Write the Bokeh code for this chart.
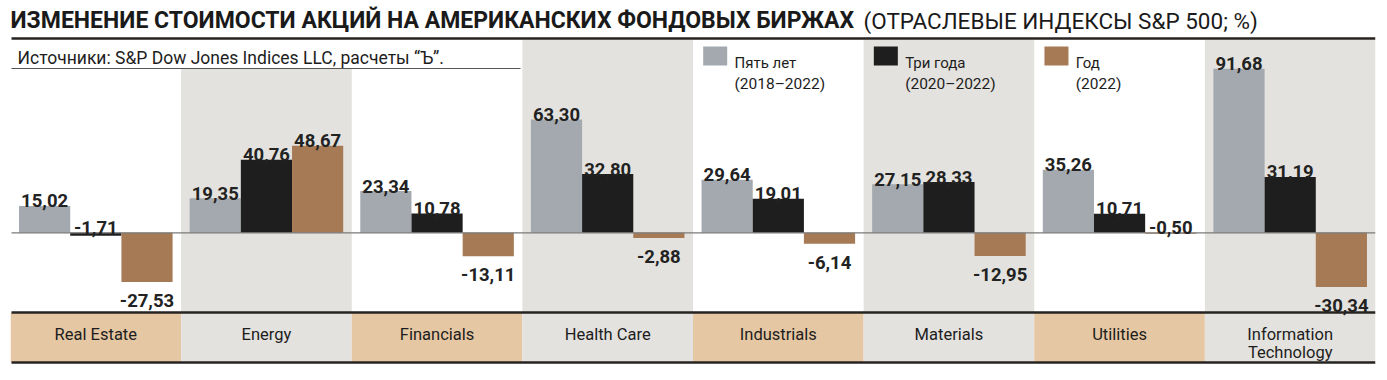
from bokeh.plotting import figure
from bokeh.models import Range1d, ColumnDataSource
from bokeh.core.properties import value
from bokeh.embed import file_html
from bokeh.resources import INLINE

# ---------------- data ----------------
categories = ["Real Estate", "Energy", "Financials", "Health Care",
              "Industrials", "Materials", "Utilities", "Information Technology"]
five_years = [15.02, 19.35, 23.34, 63.30, 29.64, 27.15, 35.26, 91.68]
three_years = [-1.71, 40.76, 10.78, 32.80, 19.01, 28.33, 10.71, 31.19]
one_year = [-27.53, 48.67, -13.11, -2.88, -6.14, -12.95, -0.50, -30.34]
series_names = ["Пять лет", "Три года", "Год"]
series_periods = ["(2018–2022)", "(2020–2022)", "(2022)"]
title_bold = "ИЗМЕНЕНИЕ СТОИМОСТИ АКЦИЙ НА АМЕРИКАНСКИХ ФОНДОВЫХ БИРЖАХ"
title_rest = "(ОТРАСЛЕВЫЕ ИНДЕКСЫ S&P 500; %)"
source_text = "Источники: S&P Dow Jones Indices LLC, расчеты “Ъ”."

# ---------------- styles ----------------
FONT = value("Roboto")
TXT = "#1d1d1d"
BAR_COLORS = ["#A3A9AE", "#1E1E1E", "#A77A56"]
BG_GRAY = "#E4E2DE"
BAND_TAN = "#E6C7A3"
RULE = "#262320"

W, H = 1387, 380
GW = 170.625          # px per category group
PXU = 1.79            # px per percentage point
ZERO_SY = 232.3       # screen y of zero line


def X(sx):
    return (sx - 10) / GW


def Y(sy):
    return (ZERO_SY - sy) / PXU


p = figure(width=W, height=H, output_backend="svg", toolbar_location=None,
           x_range=Range1d(0, 8), y_range=Range1d(Y(H), Y(0)),
           x_axis_location=None, y_axis_location=None,
           min_border_left=10, min_border_right=12, min_border_top=0, min_border_bottom=0)
p.grid.visible = False
p.outline_line_color = None
p.background_fill_color = "white"
p.border_fill_color = "white"

n = len(categories)
# alternating column backgrounds
odd = [i for i in range(n) if i % 2 == 1]
p.quad(left=odd, right=[i + 1 for i in odd], top=Y(39), bottom=Y(312),
       fill_color=BG_GRAY, line_color=None)
# bottom band
p.quad(left=list(range(n)), right=[i + 1 for i in range(n)], top=Y(312), bottom=Y(362),
       fill_color=[BG_GRAY if i % 2 else BAND_TAN for i in range(n)], line_color=None)

# source box (white) over columns
p.quad(left=[0], right=[X(520)], top=[Y(39)], bottom=[Y(68)], fill_color="white", line_color=None)
p.line([X(11), X(520)], [Y(68), Y(68)], line_color="#555555", line_width=1.2)
p.text(x=[X(17)], y=[Y(57.5)], text=[source_text], text_font=FONT, text_font_size="17.5px",
       text_color=TXT, text_baseline="alphabetic", text_align="left")

# bars
offsets = [-0.3, 0.0, 0.3]
all_series = [five_years, three_years, one_year]
for k, vals in enumerate(all_series):
    xs = [i + 0.5 + offsets[k] for i in range(n)]
    src = ColumnDataSource(dict(x=xs, top=vals, bottom=[0] * n))
    p.vbar(x="x", top="top", bottom="bottom", width=0.3, source=src,
           fill_color=BAR_COLORS[k], line_color=None)

# zero line
p.line([X(11), 8], [0, 0], line_color="#7a7a7a", line_width=1.3)

# value labels
lx, ly, lt = [], [], []
for k, vals in enumerate(all_series):
    for i, v in enumerate(vals):
        lx.append(i + 0.5 + offsets[k])
        if v > -2:
            ly.append(max(v, 0) + 5.0 / PXU)
        else:
            ly.append(v - 18.5 / PXU)
        lt.append(f"{v:.2f}".replace(".", ","))
p.text(x=lx, y=ly, text=lt, text_font=FONT, text_font_size="18.5px", text_font_style="bold",
       text_color="#222222", text_align="center", text_baseline="alphabetic")

# rules
p.line([X(11), X(1375)], [Y(38), Y(38)], line_color=RULE, line_width=2.5)
p.line([X(11), 8], [Y(312), Y(312)], line_color=RULE, line_width=2.5)
p.line([X(11), 8], [Y(362), Y(362)], line_color=RULE, line_width=2.5)

# category labels
l1x, l1t, l2x, l2t = [], [], [], []
for i, c in enumerate(categories):
    parts = c.split(" ", 1) if len(c) > 15 else [c]
    l1x.append(i + 0.5)
    l1t.append(parts[0])
    if len(parts) > 1:
        l2x.append(i + 0.5)
        l2t.append(parts[1])
p.text(x=l1x, y=[Y(333.5)] * len(l1x), text=l1t, text_font=FONT, text_font_size="16.5px",
       text_color=TXT, text_align="center", text_baseline="alphabetic")
p.text(x=l2x, y=[Y(352)] * len(l2x), text=l2t, text_font=FONT, text_font_size="16.5px",
       text_color=TXT, text_align="center", text_baseline="alphabetic")

# legend
for k in range(3):
    g = 4 + k
    p.quad(left=[g + 10.2 / GW], right=[g + 34.2 / GW], top=[Y(46)], bottom=[Y(65)],
           fill_color=BAR_COLORS[k], line_color=None)
    p.text(x=[g + 41.5 / GW], y=[Y(62.5)], text=[series_names[k]], text_font=FONT,
           text_font_size="15px", text_color=TXT, text_baseline="alphabetic")
    p.text(x=[g + 41.5 / GW], y=[Y(83.5)], text=[series_periods[k]], text_font=FONT,
           text_font_size="15.5px", text_color=TXT, text_baseline="alphabetic")

# title
p.text(x=[X(10)], y=[Y(20)], text=[title_bold], text_font=FONT, text_font_size="23px",
       text_font_style="bold", text_color="#1a1a1a", text_baseline="alphabetic")
p.text(x=[X(863)], y=[Y(20)], text=[title_rest], text_font=FONT, text_font_size="22.5px",
       text_color="#1a1a1a", text_baseline="alphabetic")

open("out.html", "w").write(file_html(p, INLINE))
